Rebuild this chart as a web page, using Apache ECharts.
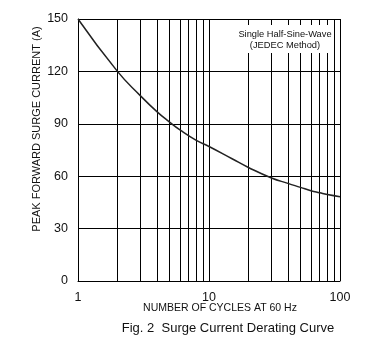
<!DOCTYPE html>
<html><head><meta charset="utf-8">
<script src="https://cdn.jsdelivr.net/npm/echarts@6/dist/echarts.min.js"></script>
<style>html,body{margin:0;padding:0;background:#fff}#c{width:379px;height:346px}</style>
</head><body><div id="c"></div>
<script>
const cycles = [1, 2, 3, 4, 5, 6, 8, 10, 15, 20, 30, 40, 50, 60, 70, 80, 100];
const current = [150, 120, 106, 97, 91, 86.5, 80.5, 77, 70, 65, 59, 55.9, 53.6, 51.7, 50.5, 49.5, 48.3];
const minorGrid = [2, 3, 4, 5, 6, 7, 8, 9, 20, 30, 40, 50, 60, 70, 80, 90];
const yTicks = [0, 30, 60, 90, 120, 150];
const xTitle = 'NUMBER OF CYCLES AT 60 Hz';
const yTitle = 'PEAK FORWARD SURGE CURRENT (A)';
const caption = 'Fig. 2  Surge Current Derating Curve';
const note = ['Single Half-Sine-Wave', '(JEDEC Method)'];

const chart = echarts.init(document.getElementById('c'), null, {renderer: 'canvas'});
const font = 'Liberation Sans, Arial, sans-serif';
chart.setOption({
  animation: false,
  backgroundColor: '#fff',
  grid: {left: 78, right: 39, top: 19, bottom: 65},
  xAxis: {
    type: 'log', logBase: 10, min: 1, max: 100,
    axisLine: {show: true, lineStyle: {color: '#000', width: 1}},
    axisTick: {show: false},
    splitLine: {show: true, lineStyle: {color: '#000', width: 1}},
    axisLabel: {color: '#111', fontSize: 12.5, fontFamily: font, margin: 10}
  },
  yAxis: {
    type: 'value', min: yTicks[0], max: yTicks[yTicks.length - 1], interval: 30,
    axisLine: {show: true, lineStyle: {color: '#000', width: 1}},
    axisTick: {show: false},
    splitLine: {show: true, lineStyle: {color: '#000', width: 1}},
    axisLabel: {color: '#111', fontSize: 12.5, fontFamily: font, margin: 10}
  },
  graphic: [
    {type: 'text', x: 37, y: 129, z: 100, rotation: Math.PI / 2,
      style: {text: yTitle, fill: '#111', fontSize: 11, fontFamily: font, textAlign: 'center', textVerticalAlign: 'middle'}},
    {type: 'text', x: 220, y: 308, z: 100,
      style: {text: xTitle, fill: '#111', fontSize: 10.5, fontFamily: font, textAlign: 'center', textVerticalAlign: 'middle'}},
    {type: 'text', x: 228, y: 328, z: 100,
      style: {text: caption, fill: '#111', fontSize: 13, fontFamily: font, textAlign: 'center', textVerticalAlign: 'middle'}},
    {type: 'rect', x: 236, y: 25, z: 100, shape: {width: 97, height: 28}, style: {fill: '#fff'}},
    {type: 'text', x: 285, y: 34, z: 101,
      style: {text: note[0], fill: '#111', fontSize: 9.3, fontFamily: font, textAlign: 'center', textVerticalAlign: 'middle'}},
    {type: 'text', x: 285, y: 45, z: 101,
      style: {text: note[1], fill: '#111', fontSize: 9.3, fontFamily: font, textAlign: 'center', textVerticalAlign: 'middle'}}
  ],
  series: [{
    type: 'line', smooth: true, symbol: 'none',
    data: cycles.map((c, i) => [c, current[i]]),
    lineStyle: {color: '#222', width: 1.5},
    z: 5,
    markLine: {
      silent: true, symbol: ['none', 'none'], label: {show: false},
      lineStyle: {color: '#000', width: 1, type: 'solid'},
      data: minorGrid.map(v => ({xAxis: v}))
    }
  }]
});
</script></body></html>
